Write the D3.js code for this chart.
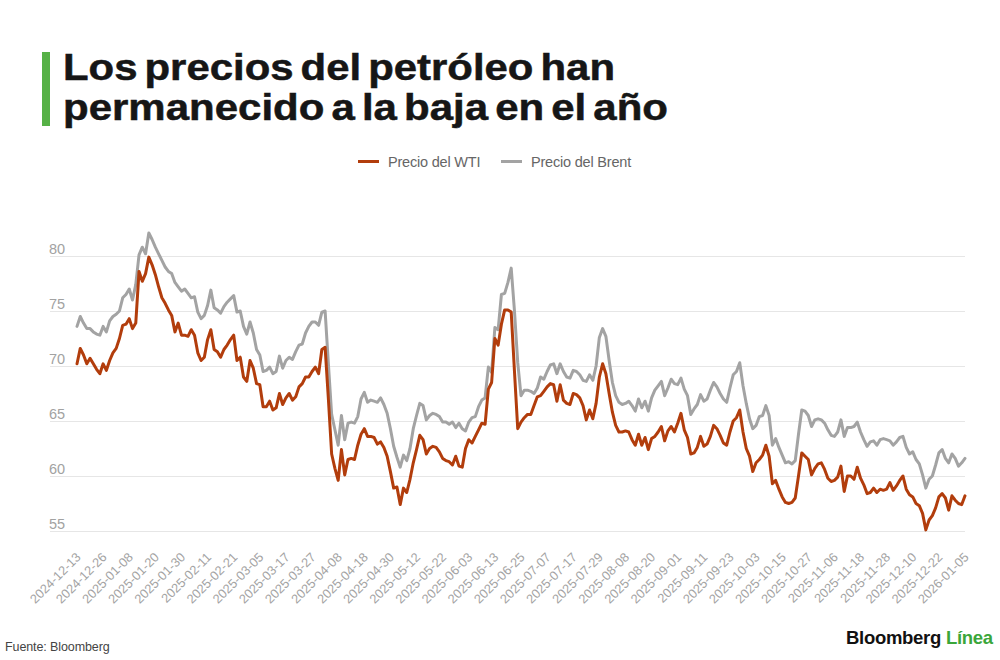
<!DOCTYPE html>
<html>
<head>
<meta charset="utf-8">
<script src="https://cdn.jsdelivr.net/npm/d3@7"></script>
<style>
  html, body { margin: 0; padding: 0; background: #ffffff; }
  svg { display: block; font-family: "Liberation Sans", Arial, sans-serif; }
</style>
</head>
<body>
<svg id="chart" width="1000" height="660"></svg>
<script>
// ---------- DATA ----------
const titleLines = ["Los precios del petróleo han", "permanecido a la baja en el año"];
const seriesNames = ["Precio del WTI", "Precio del Brent"];
const firstDay = "2024-12-13";
const lastDay = "2026-01-05";
const closedDays = ["12-25", "01-01"]; // no quote on these days

const tickLabels = [
  "2024-12-13","2024-12-26","2025-01-08","2025-01-20","2025-01-30","2025-02-11",
  "2025-02-21","2025-03-05","2025-03-17","2025-03-27","2025-04-08","2025-04-18",
  "2025-04-30","2025-05-12","2025-05-22","2025-06-03","2025-06-13","2025-06-25",
  "2025-07-07","2025-07-17","2025-07-29","2025-08-08","2025-08-20","2025-09-01",
  "2025-09-11","2025-09-23","2025-10-03","2025-10-15","2025-10-27","2025-11-06",
  "2025-11-18","2025-11-28","2025-12-10","2025-12-22","2026-01-05"
];
const yTicks = [55, 60, 65, 70, 75, 80];

const wti = [
  70.2, 71.6, 71.0, 70.2, 70.7, 70.2, 69.7, 69.3, 70.2, 69.6,
  70.5, 71.2, 71.6, 72.5, 73.7, 73.8, 74.3, 73.4, 73.9, 78.6,
  77.7, 78.4, 79.9, 79.2, 78.3, 77.2, 76.2, 75.7, 75.1, 74.6,
  73.1, 73.9, 72.8, 72.8, 72.7, 73.3, 72.8, 71.2, 70.5, 70.8,
  72.4, 73.3, 71.5, 71.3, 70.8, 71.5, 71.9, 72.4, 72.8, 70.5,
  70.8, 69.0, 68.6, 70.5, 69.8, 68.4, 68.3, 66.3, 66.3, 66.8,
  66.0, 66.2, 67.5, 66.5, 67.1, 67.5, 66.9, 67.2, 68.1, 68.4,
  69.0, 69.0, 69.5, 69.9, 69.3, 71.5, 71.7, 67.0, 62.0, 60.7,
  59.6, 62.4, 60.1, 61.5, 61.6, 61.5, 62.8, 63.8, 64.3, 63.6,
  63.6, 63.5, 62.9, 63.1, 62.6, 61.8, 60.4, 58.9, 59.0, 57.4,
  58.9, 58.5, 59.7, 61.2, 62.4, 63.7, 63.3, 62.0, 62.5, 62.7,
  62.6, 62.2, 61.6, 61.4, 61.3, 61.0, 61.8, 60.9, 60.8, 62.5,
  63.3, 63.0, 63.6, 64.2, 64.8, 64.7, 67.9, 68.5, 72.5, 71.9,
  73.8, 75.1, 75.1, 74.9, 69.5, 64.3, 64.9, 65.3, 65.6, 65.6,
  66.4, 67.2, 67.3, 67.7, 68.1, 68.4, 68.3, 66.8, 68.3, 66.9,
  66.6, 66.5, 67.5, 67.4, 67.1, 66.4, 65.1, 66.0, 65.2, 66.6,
  69.0, 70.2, 69.3, 67.5, 65.8, 64.6, 64.0, 64.0, 64.1, 64.0,
  63.3, 62.8, 63.8, 62.8, 63.5, 62.4, 63.4, 63.6, 64.0, 64.5,
  63.2, 64.1, 64.5, 64.0, 64.8, 65.7, 64.2, 63.5, 62.0, 62.1,
  62.6, 63.6, 62.7, 62.9, 63.6, 64.6, 64.3, 63.7, 63.0, 62.8,
  64.0, 65.0, 65.3, 66.0, 64.0, 62.5, 61.8, 60.4, 61.2, 61.5,
  61.9, 62.8, 61.8, 59.3, 59.6, 58.8, 58.1, 57.6, 57.5, 57.6,
  58.0, 60.0, 62.1, 61.8, 61.5, 60.1, 60.7, 61.1, 61.2, 60.6,
  59.8, 59.5, 59.6, 59.9, 60.9, 58.6, 60.0, 60.0, 59.7, 60.8,
  59.8, 59.2, 58.4, 58.5, 58.9, 58.5, 58.8, 58.7, 58.8, 59.4,
  58.7, 59.1, 59.6, 60.0, 58.8, 58.3, 58.1, 57.5, 57.3, 56.6,
  55.1, 56.0, 56.4, 57.1, 58.1, 58.4, 58.0, 56.9, 58.2, 57.8,
  57.5, 57.4, 58.2
];

const brent = [
  73.6, 74.5, 73.9, 73.4, 73.4, 73.1, 72.9, 72.8, 73.6, 73.1,
  74.1, 74.5, 74.7, 75.0, 76.2, 76.5, 77.0, 76.0, 77.4, 80.1,
  80.8, 80.2, 82.1, 81.5, 80.8, 80.2, 79.6, 79.0, 78.6, 78.4,
  77.6, 77.2, 76.8, 77.0, 76.6, 76.2, 76.3, 74.9, 74.3, 74.6,
  75.5, 76.9, 75.3, 75.1, 74.8, 75.4, 75.8, 76.1, 76.4, 74.9,
  75.0, 73.6, 72.9, 74.0, 73.0, 71.5, 71.0, 69.5, 69.6, 69.9,
  69.3, 69.5, 70.9, 69.8, 70.5, 70.8, 70.6, 71.3, 71.9, 72.0,
  73.0, 73.6, 74.0, 74.0, 73.7, 74.9, 75.0, 70.2, 65.6, 64.2,
  62.8, 65.5, 63.3, 64.8, 64.9, 64.8, 65.4, 67.0, 67.6, 66.7,
  66.9, 66.8, 66.7, 67.1, 66.5, 65.7, 64.3, 62.7, 61.7, 60.8,
  61.9, 61.4, 62.5, 64.3, 65.5, 66.6, 66.4, 65.1, 65.5, 65.7,
  65.6, 65.4, 64.9, 64.9, 64.7, 64.9, 64.4, 64.8, 64.3, 64.1,
  64.9, 65.3, 65.4, 66.3, 66.9, 67.1, 69.9, 69.4, 73.5, 73.3,
  76.5, 76.6, 77.6, 78.9, 75.0, 70.3, 67.3, 67.8, 67.8, 67.7,
  67.5, 68.0, 69.0, 68.8, 69.5, 70.1, 70.2, 69.3, 70.2, 69.5,
  69.0, 68.9, 69.6, 69.5, 69.2, 68.7, 68.6, 69.2, 68.7, 70.0,
  72.6, 73.4, 72.7, 70.5, 68.5, 67.3, 66.7, 66.5, 66.6, 66.8,
  66.4, 65.9, 67.0, 66.2, 66.8, 65.9, 67.1, 67.8, 68.2, 68.6,
  67.3, 68.0, 68.8, 68.4, 68.3, 68.9, 67.9, 67.3, 65.6, 66.1,
  66.5, 67.4, 66.8, 67.0, 67.8, 68.5, 68.1, 67.5, 67.0, 66.7,
  68.0, 69.2, 69.5, 70.3, 68.2, 66.6, 65.2, 64.3, 64.6, 65.4,
  65.5, 66.4, 65.5, 62.8, 63.4, 62.6, 61.9, 61.2, 61.3, 61.1,
  61.4, 63.8, 66.0, 65.9, 65.5, 64.5, 65.1, 65.2, 65.1, 64.8,
  64.2, 63.7, 63.6, 64.0, 65.1, 63.6, 64.4, 64.4, 64.5, 64.9,
  64.0, 63.3, 62.7, 63.1, 63.2, 62.8, 63.3, 63.4, 63.3, 63.2,
  62.8, 63.1, 63.5, 63.6, 62.6, 62.0, 62.2, 61.5, 61.1, 60.1,
  58.9, 59.7, 60.0, 61.0, 62.1, 62.4, 61.6, 61.2, 62.0, 61.6,
  60.9, 61.2, 61.6
];

// ---------- CATEGORIES (trading days) ----------
const fmt = d3.utcFormat("%Y-%m-%d");
const parse = d3.utcParse("%Y-%m-%d");
const dates = d3.utcDay.range(parse(firstDay), d3.utcDay.offset(parse(lastDay), 1))
  .filter(d => d.getUTCDay() !== 0 && d.getUTCDay() !== 6 && !closedDays.includes(fmt(d).slice(5)))
  .map(fmt);

const n = Math.min(dates.length, wti.length, brent.length);
const wtiColor = "#b23d0c", brentColor = "#a3a3a3";
const series = [
  { name: seriesNames[1], values: brent, color: brentColor },
  { name: seriesNames[0], values: wti, color: wtiColor }
];

// ---------- LAYOUT ----------
const svg = d3.select("#chart");

const x = d3.scalePoint().domain(dates.slice(0, n)).range([77, 965]);
const y = d3.scaleLinear().domain([55, 80]).range([531, 256]);

// Title
svg.append("rect").attr("x", 42).attr("y", 52).attr("width", 8).attr("height", 74).attr("fill", "#56b146");
const titleLens = [552, 605];
titleLines.forEach((t, i) => {
  svg.append("text")
    .attr("x", 63).attr("y", 80 + i * 40)
    .attr("font-size", 36.5).attr("font-weight", 700)
    .attr("fill", "#161616")
    .attr("word-spacing", -4)
    .attr("stroke", "#161616").attr("stroke-width", 0.5)
    .attr("textLength", titleLens[i]).attr("lengthAdjust", "spacingAndGlyphs")
    .text(t);
});

// Legend
const legendItems = [
  { name: seriesNames[0], color: wtiColor, x: 358 },
  { name: seriesNames[1], color: brentColor, x: 501 }
];
legendItems.forEach(it => {
  svg.append("line").attr("x1", it.x).attr("x2", it.x + 21).attr("y1", 161.5).attr("y2", 161.5)
    .attr("stroke", it.color).attr("stroke-width", 3);
  svg.append("text").attr("x", it.x + 30).attr("y", 166.5)
    .attr("font-size", 14.5).attr("fill", "#666").attr("letter-spacing", -0.2).text(it.name);
});

// Y axis with gridlines
const gy = svg.append("g").attr("transform", "translate(50,0)")
  .call(d3.axisRight(y).tickValues(yTicks).tickSize(915).tickFormat(d3.format("d")));
gy.select(".domain").remove();
gy.selectAll(".tick line").attr("stroke", "#e6e6e6").attr("stroke-width", 1);
gy.selectAll(".tick text")
  .attr("x", -1).attr("dy", -3).attr("text-anchor", "start")
  .attr("font-size", 14.5).attr("fill", "#a2a2a2")
  .attr("font-family", "Liberation Sans, Arial, sans-serif");

// X axis
const gx = svg.append("g").attr("transform", "translate(0,558)")
  .call(d3.axisBottom(x).tickValues(tickLabels.filter(t => dates.includes(t))).tickSize(0).tickPadding(0));
gx.select(".domain").remove();
gx.selectAll(".tick text")
  .attr("x", 0).attr("y", 0).attr("dy", 0)
  .attr("transform", "translate(4,0) rotate(-45)")
  .attr("text-anchor", "end")
  .attr("font-size", 12.8).attr("fill", "#a3a3a3")
  .attr("font-family", "Liberation Sans, Arial, sans-serif");

// Lines
const line = d3.line()
  .x((d, i) => x(dates[i]))
  .y(d => y(d));
series.forEach(s => {
  svg.append("path")
    .datum(s.values.slice(0, n))
    .attr("fill", "none")
    .attr("stroke", s.color)
    .attr("stroke-width", 3)
    .attr("stroke-linejoin", "round")
    .attr("stroke-linecap", "round")
    .attr("d", line);
});

// Footer
svg.append("text").attr("x", 5).attr("y", 651).attr("font-size", 12.5).attr("fill", "#444")
  .attr("letter-spacing", -0.1).text("Fuente: Bloomberg");
const logo = svg.append("text").attr("x", 846).attr("y", 644).attr("font-size", 18.5).attr("font-weight", 700)
  .attr("letter-spacing", -0.3);
logo.append("tspan").attr("fill", "#111").text("Bloomberg");
logo.append("tspan").attr("fill", "#3aa63a").attr("dx", 5).text("Línea");
</script>
</body>
</html>
